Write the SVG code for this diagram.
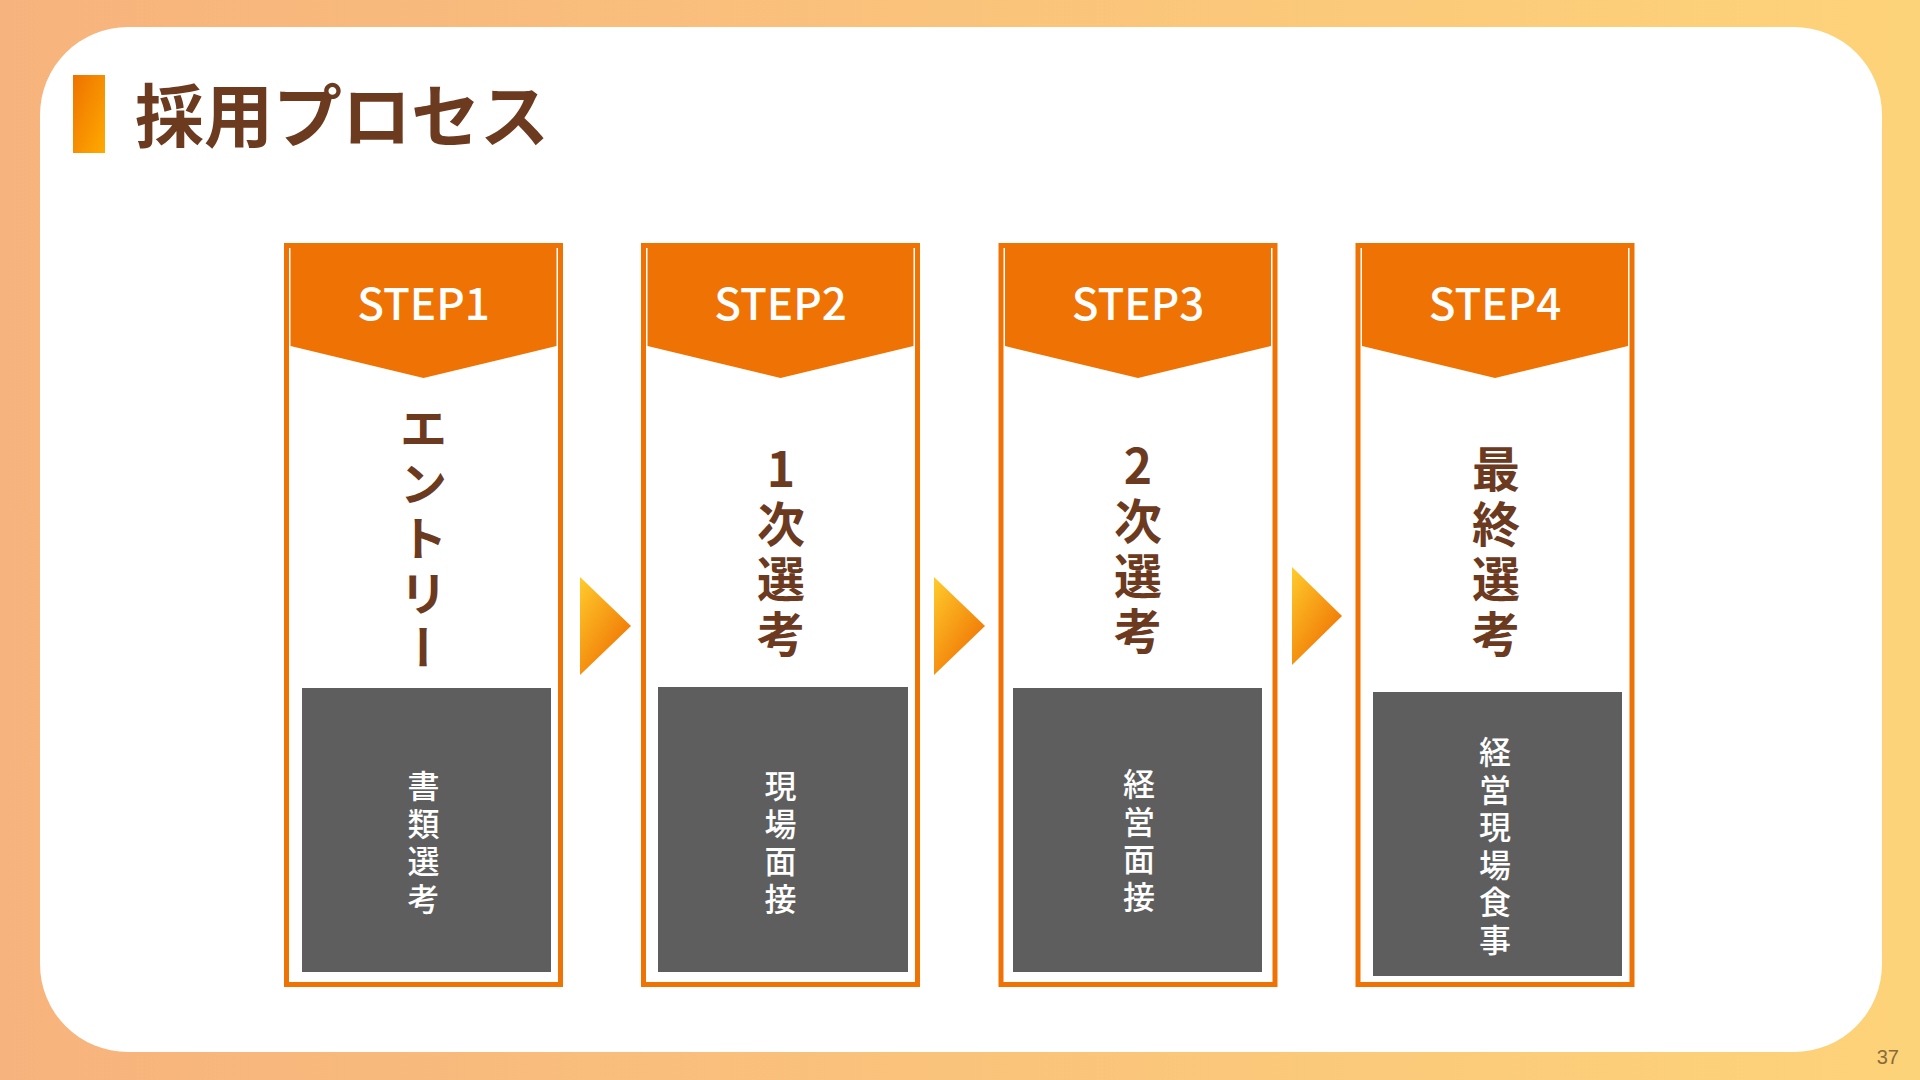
<svg xmlns="http://www.w3.org/2000/svg" width="1920" height="1080" viewBox="0 0 1920 1080">
  <defs>
    <linearGradient id="bg" x1="0" y1="0" x2="1" y2="0">
      <stop offset="0" stop-color="#F7B37D"/>
      <stop offset="1" stop-color="#FDD379"/>
    </linearGradient>
    <linearGradient id="bar" x1="0" y1="0" x2="1" y2="1">
      <stop offset="0" stop-color="#EE7200"/>
      <stop offset="1" stop-color="#FFAA00"/>
    </linearGradient>
    <linearGradient id="arrowGrad" x1="0" y1="0" x2="0.8" y2="1">
      <stop offset="0" stop-color="#FFCC2C"/>
      <stop offset="1" stop-color="#EE6C00"/>
    </linearGradient>
    <style>
      .frame { fill: none; stroke: #EF7304; stroke-width: 5; }
      .header { fill: #EF7304; }
      .gray { fill: #5E5E5E; }
      .steplabel { font-family: "Noto Sans CJK JP", "Noto Sans", sans-serif; font-weight: 500; font-size: 44px; fill: #FFFFFF; text-anchor: middle; }
      .main { font-family: "Noto Sans CJK JP", sans-serif; font-weight: 700; font-size: 48px; fill: #6B3A1F; writing-mode: vertical-rl; text-orientation: upright; letter-spacing: 7px; }
      .sub { font-family: "Noto Sans CJK JP", sans-serif; font-weight: 500; font-size: 32px; fill: #FFFFFF; writing-mode: vertical-rl; text-orientation: upright; letter-spacing: 5.5px; }
      .arrow { fill: url(#arrowGrad); }
    </style>
  </defs>

  <rect x="0" y="0" width="1920" height="1080" fill="url(#bg)"/>
  <rect x="40" y="27" width="1842" height="1025" rx="88" ry="88" fill="#FFFFFF"/>

  <g id="title">
    <rect x="73" y="75" width="32" height="78" fill="url(#bar)"/>
    <text x="135" y="142" font-family="Noto Sans CJK JP, sans-serif" font-weight="700" font-size="69" fill="#6B3A1F">採用プロセス</text>
  </g>

  <g id="connectors">
    <polygon class="arrow" points="580,577 631,626 580,675"/>
    <polygon class="arrow" points="934,577 985,626 934,675"/>
    <polygon class="arrow" points="1292,567 1342,616 1292,665"/>
  </g>

  <g id="step1">
    <polygon class="header" points="290.5,245 556.5,245 556.5,346 423.5,378 290.5,346"/>
    <rect class="frame" x="286.5" y="245.5" width="274" height="739"/>
    <text class="steplabel" x="423.5" y="320">STEP1</text>
    <text class="main" x="423.5" y="404">エントリー</text>
    <rect class="gray" x="302" y="688" width="249" height="284"/>
    <text class="sub" x="423.5" y="770">書類選考</text>
  </g>

  <g id="step2">
    <polygon class="header" points="647.5,245 913.5,245 913.5,346 780.5,378 647.5,346"/>
    <rect class="frame" x="643.5" y="245.5" width="274" height="739"/>
    <text class="steplabel" x="780.5" y="320">STEP2</text>
    <text class="main" x="781" y="445">1次選考</text>
    <rect class="gray" x="658" y="687" width="250" height="285"/>
    <text class="sub" x="780.5" y="770">現場面接</text>
  </g>

  <g id="step3">
    <polygon class="header" points="1005,245 1271,245 1271,346 1138,378 1005,346"/>
    <rect class="frame" x="1001" y="245.5" width="274" height="739"/>
    <text class="steplabel" x="1138" y="320">STEP3</text>
    <text class="main" x="1138" y="442">2次選考</text>
    <rect class="gray" x="1013" y="688" width="249" height="284"/>
    <text class="sub" x="1139" y="768">経営面接</text>
  </g>

  <g id="step4">
    <polygon class="header" points="1362,245 1628,245 1628,346 1495,378 1362,346"/>
    <rect class="frame" x="1358" y="245.5" width="274" height="739"/>
    <text class="steplabel" x="1495" y="320">STEP4</text>
    <text class="main" x="1496" y="445">最終選考</text>
    <rect class="gray" x="1373" y="692" width="249" height="284"/>
    <text class="sub" x="1495" y="736">経営現場食事</text>
  </g>

  <text x="1899" y="1064" font-family="Liberation Sans, sans-serif" font-size="20" fill="#8A6A3C" text-anchor="end">37</text>
</svg>
